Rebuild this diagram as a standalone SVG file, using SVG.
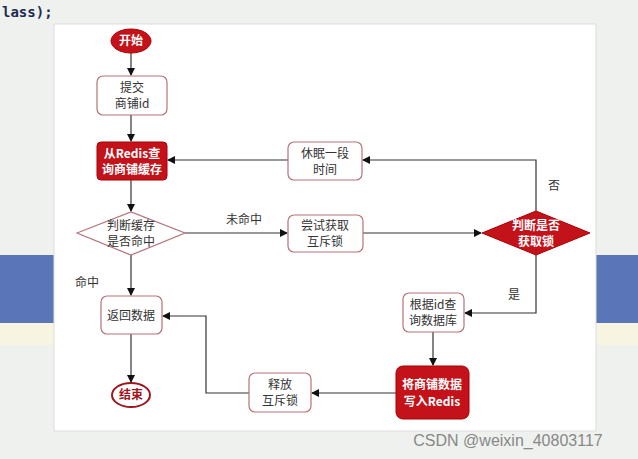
<svg xmlns="http://www.w3.org/2000/svg" width="638" height="459" viewBox="0 0 638 459">
<style>
text{font-family:"Noto Sans CJK SC","Noto Sans",sans-serif;font-size:12px;fill:#333;text-anchor:middle}
.w{fill:#fff}
.b{fill:#fff;stroke:#b5737a;stroke-width:1.2}
.r{fill:#c4121a;stroke:#a00;stroke-width:1}
.c{fill:none;stroke:#333;stroke-width:1.2;marker-end:url(#a)}
</style>
<defs><marker id="a" markerWidth="8" markerHeight="8" refX="7" refY="4" orient="auto" markerUnits="userSpaceOnUse"><path d="M0,0L8,4L0,8z" fill="#111"/></marker></defs>
<rect width="638" height="459" fill="#eef1ee"/>
<rect y="255" width="638" height="68" fill="#5a76b8"/>
<rect y="323" width="638" height="22" fill="#f7f4e2"/>
<text x="2" y="17" style="font-family:'DejaVu Sans Mono',monospace;font-weight:bold;font-size:14px;fill:#1e2a55;text-anchor:start">lass);</text>
<rect x="54" y="24" width="542" height="407" fill="#fff" stroke="#ddd"/>
<g id="connectors">
<path class="c" d="M131,53V75"/>
<path class="c" d="M131,115V141"/>
<path class="c" d="M131,180V211"/>
<path class="c" d="M185,233H287"/>
<path class="c" d="M363,233H481"/>
<path class="c" d="M536,211V160H363"/>
<path class="c" d="M288,160H168"/>
<path class="c" d="M536,255V313H465"/>
<path class="c" d="M433,332V365"/>
<path class="c" d="M396,393H312"/>
<path class="c" d="M249,393H206V316H163"/>
<path class="c" d="M131,255V295"/>
<path class="c" d="M131,334V382"/>
</g>
<text x="244" y="224">未命中</text>
<text x="554" y="190">否</text>
<text x="514" y="299">是</text>
<text x="87" y="287">命中</text>
<g id="start"><ellipse cx="131" cy="41" rx="20" ry="12" class="r"/><text x="131" y="45" class="w" style="font-weight:bold">开始</text></g>
<g id="submit"><rect x="97" y="76" width="70" height="39" rx="6" class="b"/><text x="132" y="92">提交</text><text x="132" y="108">商铺id</text></g>
<g id="redis"><rect x="97" y="142" width="70" height="38" rx="4" class="r"/><text x="132" y="158" class="w" style="font-weight:bold">从Redis查</text><text x="132" y="174" class="w" style="font-weight:bold">询商铺缓存</text></g>
<g id="hit"><path d="M77,233L131,212L185,233L131,255z" class="b"/><text x="131" y="230">判断缓存</text><text x="131" y="246">是否命中</text></g>
<g id="sleep"><rect x="288" y="142" width="74" height="38" rx="6" class="b"/><text x="325" y="158">休眠一段</text><text x="325" y="174">时间</text></g>
<g id="trylock"><rect x="288" y="215" width="75" height="37" rx="6" class="b"/><text x="325" y="230">尝试获取</text><text x="325" y="246">互斥锁</text></g>
<g id="lock"><path d="M482,233L536,211L590,233L536,255z" class="r"/><text x="536" y="230" class="w" style="font-weight:bold">判断是否</text><text x="536" y="246" class="w" style="font-weight:bold">获取锁</text></g>
<g id="query"><rect x="403" y="293" width="61" height="39" rx="6" class="b"/><text x="433" y="309">根据id查</text><text x="433" y="325">询数据库</text></g>
<g id="write"><rect x="396" y="366" width="73" height="53" rx="7" class="r"/><text x="432" y="389" class="w" style="font-weight:bold">将商铺数据</text><text x="432" y="406" class="w" style="font-weight:bold">写入Redis</text></g>
<g id="unlock"><rect x="249" y="373" width="62" height="39" rx="6" class="b"/><text x="280" y="389">释放</text><text x="280" y="405">互斥锁</text></g>
<g id="return"><rect x="101" y="296" width="61" height="38" rx="6" class="b"/><text x="131" y="320">返回数据</text></g>
<g id="end"><ellipse cx="131" cy="395" rx="19" ry="12" fill="#fff" stroke="#a0141c" stroke-width="2"/><text x="131" y="399" style="fill:#a0141c;font-weight:bold">结束</text></g>
<text x="508" y="446" style="font-family:'Liberation Sans',sans-serif;font-size:16px;fill:#888">CSDN @weixin_40803117</text>
</svg>
